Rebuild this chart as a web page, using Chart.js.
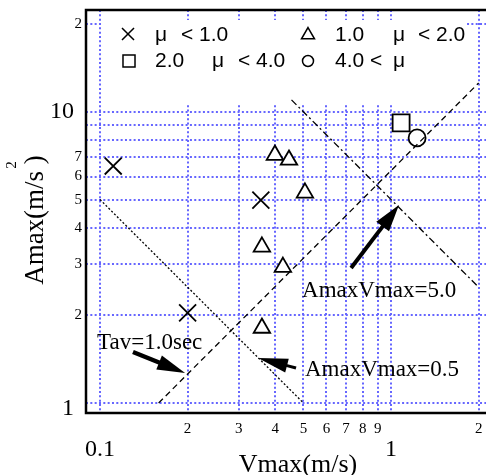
<!DOCTYPE html>
<html>
<head>
<meta charset="utf-8">
<script src="https://cdn.jsdelivr.net/npm/chart.js@4/dist/chart.umd.min.js"></script>
<style>
html, body { margin: 0; padding: 0; background: #fff; overflow: hidden; }
#wrap { position: relative; width: 486px; height: 475px; }
</style>
</head>
<body>
<div id="wrap"><canvas id="myCanvas"></canvas></div>
<script>
// measured points, Vmax (m/s) vs Amax (m/s^2)
const vmaxLow = [0.111, 0.2, 0.357];          // mu < 1.0
const amaxLow = [6.52, 2.04, 4.98];
const vmaxMid = [0.399, 0.446, 0.506, 0.36, 0.425, 0.36];   // 1.0 - 2.0
const amaxMid = [7.11, 6.84, 5.27, 3.44, 2.93, 1.81];
const vmaxHigh = [1.083];                     // 2.0 - 4.0
const amaxHigh = [9.17];
const vmaxTop = [1.229];                      // 4.0 < mu
const amaxTop = [8.14];

// reference lines (end points)
const tavV = [0.159, 2.0];
const tavA = [1.0, 12.57];
const prod05V = [0.1, 0.5];
const prod05A = [5.0, 1.0];
const prod50V = [0.455, 2.0];
const prod50A = [11.0, 2.5];

// axis ticks
const xTickVals = [0.1, 0.2, 0.3, 0.4, 0.5, 0.6, 0.7, 0.8, 0.9, 1, 2];
const xTickLabels = ['0.1', '2', '3', '4', '5', '6', '7', '8', '9', '1', '2'];
const yTickVals = [1, 2, 3, 4, 5, 6, 7, 8, 9, 10, 20];
const yTickLabels = ['1', '2', '3', '4', '5', '6', '7', '', '', '10', '2'];
const bigLabels = ['0.1', '1', '10'];

// arrows and notes (data coords)
const arrowFromV = [0.1298, 0.4716, 0.729];
const arrowFromA = [1.497, 1.319, 2.91];
const arrowToV = [0.196, 0.349, 1.065];
const arrowToA = [1.268, 1.428, 4.79];
const noteText = ['Tav=1.0sec', 'AmaxVmax=5.0', 'AmaxVmax=0.5'];
const noteV = [0.0977, 0.4945, 0.506];
const noteA = [1.607, 2.426, 1.298];

const pts = (xs, ys) => xs.map((x, i) => ({x: x, y: ys[i]}));

const SERIF = '"Liberation Serif", "DejaVu Serif", serif';
const SANS = '"Liberation Sans", Arial, sans-serif';

function arrow(ctx, x0, y0, x1, y1, headLen, headW, lw) {
  const ang = Math.atan2(y1 - y0, x1 - x0);
  const bx = x1 - headLen * Math.cos(ang), by = y1 - headLen * Math.sin(ang);
  ctx.strokeStyle = '#000';
  ctx.fillStyle = '#000';
  ctx.lineWidth = lw;
  ctx.setLineDash([]);
  ctx.beginPath();
  ctx.moveTo(x0, y0);
  ctx.lineTo(bx + 2 * Math.cos(ang), by + 2 * Math.sin(ang));
  ctx.stroke();
  ctx.beginPath();
  ctx.moveTo(x1, y1);
  ctx.lineTo(bx + headW * Math.sin(ang), by - headW * Math.cos(ang));
  ctx.lineTo(bx - headW * Math.sin(ang), by + headW * Math.cos(ang));
  ctx.closePath();
  ctx.fill();
}

const decor = {
  id: 'decor',
  beforeDatasetsDraw(chart) {
    // white legend box sits over the grid
    const ctx = chart.ctx;
    ctx.save();
    ctx.fillStyle = '#fff';
    ctx.fillRect(103, 20, 363, 83);
    ctx.restore();
  },
  afterDatasetsDraw(chart) {
    const ctx = chart.ctx;
    const xs = chart.scales.x, ys = chart.scales.y;
    const a = chart.chartArea;
    ctx.save();

    // frame: left, bottom, top
    ctx.strokeStyle = '#000';
    ctx.lineWidth = 2.5;
    ctx.beginPath();
    ctx.moveTo(a.right + 2, a.top);
    ctx.lineTo(a.left, a.top);
    ctx.lineTo(a.left, a.bottom);
    ctx.lineTo(a.right + 2, a.bottom);
    ctx.stroke();

    // arrows
    const heads = [[28, 7.5, 4.5], [30, 7, 3], [27, 8, 4]];
    for (let i = 0; i < arrowFromV.length; i++) {
      arrow(ctx,
        xs.getPixelForValue(arrowFromV[i]), ys.getPixelForValue(arrowFromA[i]),
        xs.getPixelForValue(arrowToV[i]), ys.getPixelForValue(arrowToA[i]),
        heads[i][0], heads[i][1], heads[i][2]);
    }

    // notes
    ctx.fillStyle = '#000';
    ctx.font = '23px ' + SERIF;
    ctx.textAlign = 'left';
    ctx.textBaseline = 'middle';
    noteText.forEach((t, i) => {
      ctx.fillText(t, xs.getPixelForValue(noteV[i]), ys.getPixelForValue(noteA[i]));
    });

    // tick labels
    xTickVals.forEach((v, i) => {
      const lab = xTickLabels[i];
      const big = bigLabels.includes(lab) && v <= 1;
      ctx.font = (big ? '24px ' : '15px ') + SERIF;
      ctx.textAlign = 'center';
      ctx.fillText(lab, xs.getPixelForValue(v), big ? 450 : 429);
    });
    yTickVals.forEach((v, i) => {
      const lab = yTickLabels[i];
      if (!lab) return;
      const big = (v === 1 || v === 10);
      ctx.font = (big ? '24px ' : '15px ') + SERIF;
      ctx.textAlign = 'right';
      let yy = ys.getPixelForValue(v);
      if (v === 1) yy += 6;
      ctx.fillText(lab, big ? 74 : 82, yy);
    });

    // axis titles
    ctx.textBaseline = 'alphabetic';
    ctx.textAlign = 'center';
    ctx.font = '26px ' + SERIF;
    ctx.fillText('Vmax(m/s)', 298, 472);
    ctx.save();
    ctx.translate(43, 220);
    ctx.rotate(-Math.PI / 2);
    ctx.font = '27px ' + SERIF;
    ctx.fillText('Amax(m/s )', 0, 0);
    ctx.font = '15px ' + SERIF;
    ctx.textBaseline = 'middle';
    ctx.fillText('2', 55, -31);
    ctx.restore();

    // legend
    const drawPt = Chart.helpers.drawPoint;
    ctx.strokeStyle = '#000';
    ctx.fillStyle = '#fff';
    ctx.lineWidth = 1.5;
    drawPt(ctx, {pointStyle: 'crossRot', radius: 8.5, rotation: 0, borderWidth: 1.5}, 128, 34);
    drawPt(ctx, {pointStyle: 'triangle', radius: 7.5, rotation: 0, borderWidth: 1.5}, 308, 35);
    drawPt(ctx, {pointStyle: 'rect', radius: 8.5, rotation: 0, borderWidth: 1.5}, 129, 61);
    drawPt(ctx, {pointStyle: 'circle', radius: 5.5, rotation: 0, borderWidth: 1.5}, 308, 61);
    ctx.fillStyle = '#000';
    ctx.font = '21px ' + SANS;
    ctx.textAlign = 'left';
    ctx.textBaseline = 'middle';
    const leg = [
      ['μ', 155, 35], ['< 1.0', 181, 35],
      ['1.0', 335, 35], ['μ', 393, 35], ['< 2.0', 418, 35],
      ['2.0', 155, 61], ['μ', 212, 61], ['< 4.0', 238, 61],
      ['4.0 <', 335, 61], ['μ', 393, 61]
    ];
    leg.forEach(l => ctx.fillText(l[0], l[1], l[2]));
    ctx.restore();
  }
};

const pointDs = (data, style, r) => ({
  data: data,
  pointStyle: style,
  pointRadius: r,
  pointHoverRadius: r,
  borderColor: '#000',
  backgroundColor: '#fff',
  pointBorderWidth: 1.8,
  showLine: false,
  order: 2
});
const lineDs = (data, dash) => ({
  data: data,
  showLine: true,
  pointRadius: 0,
  borderColor: '#000',
  borderWidth: 1.3,
  borderDash: dash,
  fill: false,
  order: 1
});

const ctx = document.getElementById('myCanvas');
ctx.width = 486;
ctx.height = 475;

const gridOpts = {color: '#6666ff', lineWidth: 2, drawTicks: false};

new Chart(ctx, {
  type: 'scatter',
  data: {
    datasets: [
      pointDs(pts(vmaxLow, amaxLow), 'crossRot', 12),
      pointDs(pts(vmaxMid, amaxMid), 'triangle', 9.5),
      pointDs(pts(vmaxHigh, amaxHigh), 'rect', 12),
      pointDs(pts(vmaxTop, amaxTop), 'circle', 8.5),
      lineDs(pts(tavV, tavA), [6, 4]),
      lineDs(pts(prod05V, prod05A), [2, 2]),
      lineDs(pts(prod50V, prod50A), [7, 3, 2, 3])
    ]
  },
  options: {
    responsive: false,
    animation: false,
    events: [],
    layout: {autoPadding: false, padding: {left: 86, top: 10, right: 0, bottom: 62}},
    plugins: {legend: {display: false}, tooltip: {enabled: false}},
    scales: {
      x: {
        type: 'logarithmic',
        bounds: 'data',
        min: 0.0895,
        max: 2.12,
        afterBuildTicks: s => { s.ticks = xTickVals.map(v => ({value: v})); },
        ticks: {display: false},
        grid: gridOpts,
        border: {display: false, dash: [2, 2.33]}
      },
      y: {
        type: 'logarithmic',
        bounds: 'data',
        min: 0.924,
        max: 22.4,
        afterBuildTicks: s => { s.ticks = yTickVals.map(v => ({value: v})); },
        ticks: {display: false},
        grid: gridOpts,
        border: {display: false, dash: [2, 2.33]}
      }
    }
  },
  plugins: [decor]
});
</script>
</body>
</html>
